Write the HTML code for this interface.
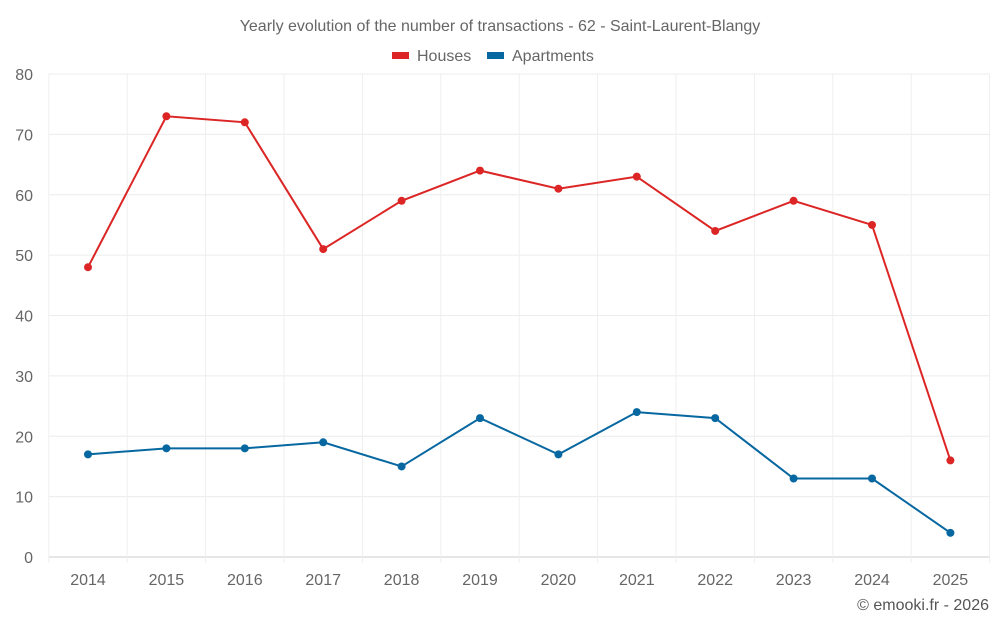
<!DOCTYPE html>
<html><head><meta charset="utf-8"><style>
body{margin:0;background:#fff;}
svg{display:block;font-family:"Liberation Sans",sans-serif;}
</style></head><body>
<svg id="chart" width="1000" height="625">
<text x="500" y="31" text-anchor="middle" font-size="16" fill="#666">Yearly evolution of the number of transactions - 62 - Saint-Laurent-Blangy</text>
<g><rect x="392" y="52" width="17" height="7" fill="#dc2626"/><text x="417" y="61" font-size="16" fill="#666">Houses</text></g>
<g><rect x="487" y="52" width="17" height="7" fill="#0767a0"/><text x="512" y="61" font-size="16" fill="#666">Apartments</text></g>
<g id="grid"></g><g id="axes"></g><g id="series"></g>
<text x="989" y="610" text-anchor="end" font-size="16" fill="#555">© emooki.fr - 2026</text>
</svg>
<script>
const categories=["2014","2015","2016","2017","2018","2019","2020","2021","2022","2023","2024","2025"];
const houses=[48,73,72,51,59,64,61,63,54,59,55,16];
const apartments=[17,18,18,19,15,23,17,24,23,13,13,4];
const yTicks=[0,10,20,30,40,50,60,70,80];
const L=48.8,R=989.6,T=74,B=557,ymax=80;
const bw=(R-L)/categories.length;
const x=i=>L+bw*(i+0.5);
const y=v=>B-(v/ymax)*(B-T);
const NS="http://www.w3.org/2000/svg";
function mk(t,a,p){const e=document.createElementNS(NS,t);for(const k in a)e.setAttribute(k,a[k]);p.appendChild(e);return e;}
const g=document.getElementById('grid'),ax=document.getElementById('axes'),s=document.getElementById('series');
yTicks.forEach(v=>{
 const l=mk('line',{x1:L,x2:R,y1:y(v),y2:y(v),stroke:v===0?'#ccc':'#ececec'},g);
 
 
 const t=mk('text',{x:33,y:y(v)+6,'text-anchor':'end','font-size':16,fill:'#666'},ax);t.textContent=v;
 
 
});
for(let i=0;i<=categories.length;i++){
 const xx=L+bw*i;
 const l=mk('line',{x1:xx,x2:xx,y1:T,y2:B+6,stroke:'#efefef'},g);
 
 
}
categories.forEach((c,i)=>{
 const t=mk('text',{x:x(i),y:585,'text-anchor':'middle','font-size':16,fill:'#666'},ax);t.textContent=c;
 
 
});
function series(d,col,name){
 const p=mk('polyline',{points:d.map((v,i)=>x(i)+','+y(v)).join(' '),fill:'none',stroke:col,'stroke-width':2},s);
 
 
 d.forEach((v,i)=>{
  const c=mk('circle',{cx:x(i),cy:y(v),r:4,fill:col},s);
  
  
 });
}
series(houses,'#dc2626','houses');
series(apartments,'#0767a0','apartments');
</script>
</body></html>
